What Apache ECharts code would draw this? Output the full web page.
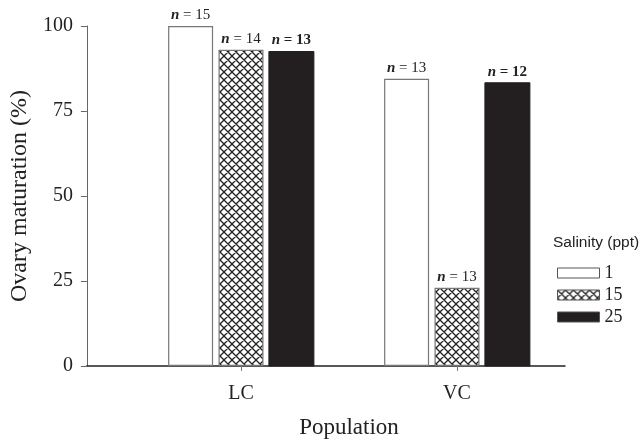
<!DOCTYPE html>
<html>
<head>
<meta charset="utf-8">
<script src="https://cdn.jsdelivr.net/npm/echarts@6/dist/echarts.min.js"></script>
<style>
  html, body { margin: 0; padding: 0; background: #fff; }
  #chart { width: 643px; height: 445px; }
</style>
</head>
<body>
<div id="chart"></div>
<script>
  // 数据
  var populations = ['LC', 'VC'];
  var salinities = ['1', '15', '25'];
  var salt1 = [100, 84.5];
  var salt15 = [93, 23];
  var salt25 = [92.5, 83.3];
  var n1 = [15, 13];
  var n15 = [14, 13];
  var n25 = [13, 12];
  var yTicks = [0, 25, 50, 75, 100];

  // 交叉网格填充
  function hatchPattern() {
    var c = document.createElement('canvas');
    c.width = 8;
    c.height = 8;
    var ctx = c.getContext('2d');
    ctx.fillStyle = '#fff';
    ctx.fillRect(0, 0, 8, 8);
    ctx.strokeStyle = '#222';
    ctx.lineWidth = 1.3;
    ctx.beginPath();
    ctx.moveTo(0, 0); ctx.lineTo(8, 8);
    ctx.moveTo(8, 0); ctx.lineTo(0, 8);
    ctx.moveTo(-1, 7); ctx.lineTo(1, 9);
    ctx.moveTo(7, -1); ctx.lineTo(9, 1);
    ctx.stroke();
    return c;
  }

  var serif = '"Liberation Serif", "DejaVu Serif", serif';

  function nLabel(nArr, bold) {
    return {
      show: true,
      position: 'top',
      distance: 3,
      formatter: function (p) {
        return '{i|n} = ' + nArr[p.dataIndex];
      },
      fontFamily: serif,
      fontSize: 15,
      fontWeight: bold ? 'bold' : 'normal',
      color: '#222',
      rich: {
        i: { fontFamily: serif, fontStyle: 'italic', fontWeight: 'bold', fontSize: 15, color: '#222' }
      }
    };
  }

  var chart = echarts.init(document.getElementById('chart'));
  var option = {
    animation: false,
    grid: [
      { left: 86, right: 78, top: 26, bottom: 79 },
      { left: 133, right: 78, top: 26, bottom: 79 }
    ],
    legend: {
      orient: 'vertical',
      left: 557,
      top: 264,
      padding: 0,
      icon: 'rect',
      itemWidth: 42,
      itemHeight: 10,
      itemGap: 4,
      data: salinities,
      itemStyle: { borderColor: '#555', borderWidth: 1 },
      textStyle: { fontFamily: serif, fontSize: 18, color: '#222' }
    },
    title: {
      text: 'Salinity (ppt)',
      left: 553,
      top: 235,
      padding: 0,
      textStyle: { fontFamily: '"Liberation Sans", Arial, sans-serif', fontSize: 15.5, fontWeight: 'normal', color: '#222' }
    },
    xAxis: [
      {
        gridIndex: 0,
        type: 'category',
        data: [''],
        axisLine: { lineStyle: { color: '#222', width: 1.5 } },
        axisTick: { show: false },
        axisLabel: { show: false }
      },
      {
        gridIndex: 1,
        type: 'category',
        data: populations,
        axisLine: { show: false },
        axisTick: { show: true, alignWithLabel: true, length: 5, lineStyle: { color: '#777' } },
        axisLabel: { fontFamily: serif, fontSize: 20, color: '#222', margin: 18 },
        name: 'Population',
        nameLocation: 'middle',
        nameGap: 50,
        nameTextStyle: { fontFamily: serif, fontSize: 23, color: '#222' }
      }
    ],
    yAxis: [
      {
        gridIndex: 0,
        type: 'value',
        min: 0,
        max: 100,
        interval: 25,
        axisLine: { show: true, lineStyle: { color: '#666', width: 1 } },
        axisTick: { show: true, length: 6, lineStyle: { color: '#666' } },
        axisLabel: {
          fontFamily: serif, fontSize: 20, color: '#222', margin: 14,
          formatter: function (v) { return yTicks.indexOf(v) >= 0 ? String(v) : ''; }
        },
        splitLine: { show: false },
        name: 'Ovary maturation (%)',
        nameLocation: 'middle',
        nameGap: 41,
        nameTextStyle: { fontFamily: serif, fontSize: 24, color: '#222' }
      },
      {
        gridIndex: 1,
        type: 'value',
        min: 0,
        max: 100,
        show: false
      }
    ],
    series: [
      {
        name: '1',
        type: 'bar',
        xAxisIndex: 1,
        yAxisIndex: 1,
        data: salt1,
        barWidth: 45,
        barGap: '12%',
        itemStyle: { color: '#fff', borderColor: '#777', borderWidth: 1.2 },
        label: nLabel(n1, false)
      },
      {
        name: '15',
        type: 'bar',
        xAxisIndex: 1,
        yAxisIndex: 1,
        data: salt15,
        barWidth: 45,
        barGap: '12%',
        itemStyle: { color: { image: hatchPattern(), repeat: 'repeat' }, borderColor: '#777', borderWidth: 1.2 },
        label: nLabel(n15, false)
      },
      {
        name: '25',
        type: 'bar',
        xAxisIndex: 1,
        yAxisIndex: 1,
        data: salt25,
        barWidth: 45,
        barGap: '12%',
        itemStyle: { color: '#231f20', borderColor: '#231f20' },
        label: nLabel(n25, true)
      }
    ]
  };
  chart.setOption(option);
</script>
</body>
</html>
